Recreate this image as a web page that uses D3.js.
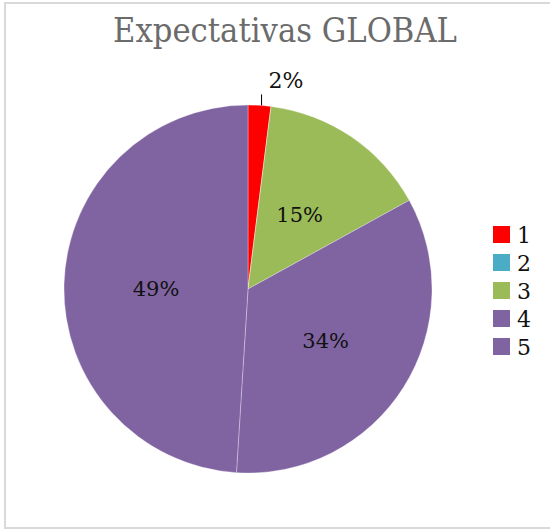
<!DOCTYPE html>
<html>
<head>
<meta charset="utf-8">
<script src="https://cdn.jsdelivr.net/npm/d3@7"></script>
<style>
  body { margin: 0; background: #fff; }
  svg { display: block; }
</style>
</head>
<body>
<div id="chart"></div>
<script>
// datos del gráfico
const categories = ['1', '2', '3', '4', '5']
const values = [2, 0, 15, 34, 49]
const colors = ['#FF0000', '#4BACC6', '#9BBB59', '#8064A2', '#8064A2']
const title = 'Expectativas GLOBAL'

const width = 550
const height = 531
const font = '"DejaVu Serif", "Liberation Serif", serif'

const svg = d3.select('#chart')
  .append('svg')
  .attr('width', width)
  .attr('height', height)

// marco
svg.append('rect')
  .attr('x', 5)
  .attr('y', 3)
  .attr('width', 600)
  .attr('height', 525)
  .attr('fill', '#fff')
  .attr('stroke', '#d9d9d9')
  .attr('stroke-width', 2)

svg.append('text')
  .attr('x', 285)
  .attr('y', 42)
  .attr('text-anchor', 'middle')
  .attr('textLength', 344)
  .attr('lengthAdjust', 'spacingAndGlyphs')
  .style('font-family', font)
  .style('font-size', '34px')
  .style('fill', '#6b6b6b')
  .text(title)

const cx = 248
const cy = 289
const r = 184
const total = d3.sum(values)

const color = d3.scaleOrdinal()
  .domain(categories)
  .range(colors)

const pie = d3.pie()
  .sort(null)
  .value(d => d.value)
const arcs = pie(categories.map((c, i) => ({ cat: c, value: values[i] })))

const arc = d3.arc().innerRadius(0).outerRadius(r)
const labelArc = d3.arc().innerRadius(r * 0.5).outerRadius(r * 0.5)

const g = svg.append('g')
  .attr('transform', `translate(${cx},${cy})`)

g.selectAll('path')
  .data(arcs)
  .enter()
  .append('path')
  .attr('d', arc)
  .style('fill', d => color(d.data.cat))
  .style('stroke', '#fff')
  .style('stroke-width', 0.6)
  .style('stroke-opacity', 0.5)

const fmt = d => Math.round(d.data.value / total * 100) + '%'

// etiquetas dentro
g.selectAll('text.inner')
  .data(arcs.filter(d => d.data.value / total >= 0.05))
  .enter()
  .append('text')
  .attr('class', 'inner')
  .attr('transform', d => `translate(${labelArc.centroid(d)})`)
  .attr('text-anchor', 'middle')
  .attr('dy', '0.45em')
  .style('font-family', font)
  .style('font-size', '21px')
  .style('fill', '#111')
  .text(fmt)

// etiquetas pequeñas fuera, con línea guía
const small = arcs.filter(d => d.data.value > 0 && d.data.value / total < 0.05)
small.forEach(d => {
  const a = (d.startAngle + d.endAngle) / 2
  const x1 = Math.sin(a) * r
  const y1 = -Math.cos(a) * r
  const y2 = y1 - 11
  g.append('line')
    .attr('x1', x1 + 2).attr('y1', y1)
    .attr('x2', x1 + 2).attr('y2', y2)
    .style('stroke', '#000')
    .style('stroke-width', 1)
  g.append('text')
    .attr('x', x1 + 9)
    .attr('y', y2 - 6)
    .style('font-family', font)
    .style('font-size', '22px')
    .style('fill', '#111')
    .text(fmt(d))
})

// leyenda
const legend = svg.append('g')
  .attr('transform', 'translate(493,226)')

const item = legend.selectAll('g')
  .data(categories)
  .enter()
  .append('g')
  .attr('transform', (d, i) => `translate(0,${i * 28})`)

item.append('rect')
  .attr('width', 17)
  .attr('height', 17)
  .style('fill', d => color(d))

item.append('text')
  .attr('x', 24)
  .attr('y', 9)
  .attr('dy', '0.35em')
  .style('font-family', font)
  .style('font-size', '22px')
  .style('fill', '#111')
  .text(d => d)
</script>
</body>
</html>
